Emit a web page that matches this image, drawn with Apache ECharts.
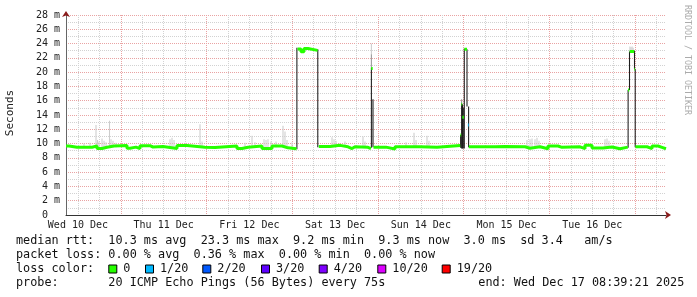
<!DOCTYPE html>
<html><head><meta charset="utf-8">
<script src="https://cdn.jsdelivr.net/npm/echarts@6/dist/echarts.min.js"></script>
<style>html,body{margin:0;padding:0;background:#fff}#c{width:697px;height:297px}</style>
</head><body><div id="c"></div>
<script>
// ---- data (x = hours since Wed Dec 10 08:39:21) ----
const START_HOUR = 8 + 39/60 + 21/3600;
const SPAN = 168;
const dayLabels = ['Wed 10 Dec','Thu 11 Dec','Fri 12 Dec','Sat 13 Dec','Sun 14 Dec','Mon 15 Dec','Tue 16 Dec'];
const yMax = 28, yStep = 2;

// median rtt (ms); null = no median line in that bucket
const medianT = [0,0.84,3.08,3.64,7.28,8.68,10.08,11.48,13.44,17.08,17.92,19.60,20.72,23.52,24.36,27.16,29.12,31.08,33.88,38.92,41.72,47.88,49.28,50.96,54.88,57.68,60.48,62.16,64.54,
  64.62,64.79,
  64.85,65.80,66.64,67.76,70.45,
  70.56,70.73,
  70.78,73.92,76.72,78.96,80.08,80.92,84.56,85.40,
  85.46,85.88,
  86.10,89.60,92.12,99.12,103.88,104.44,110.38,
  110.43,110.66,
  110.71,110.94,
  110.99,111.38,
  111.55,112.28,
  112.34,112.50,
  112.53,112.76,
  112.78,120.12,122.92,128.52,129.92,132.72,134.96,137.76,138.88,143.92,145.32,147.28,150.36,152.88,155.12,157.30,
  157.36,157.72,
  157.84,159.10,
  159.15,159.35,
  159.43,162.68,164.08,165.76,166.88];
const medianV = [9.66,9.48,9.25,9.48,9.66,9.3,9.48,9.66,9.72,9.35,9.5,9.3,9.7,9.52,9.6,9.45,9.3,9.72,9.5,9.45,9.66,9.3,9.48,9.66,9.3,9.66,9.4,9.28,null,
  12.6,null,
  23.25,22.85,23.3,23.05,null,
  15.0,null,
  9.6,9.75,9.55,9.3,9.55,9.47,9.28,null,
  20.5,null,
  9.5,9.25,9.55,9.5,9.28,9.72,null,
  11.2,null,
  15.5,null,
  13.7,null,
  23.2,null,
  15.2,null,
  12.6,null,
  9.55,9.6,9.55,9.35,9.55,9.28,9.66,9.47,9.55,9.28,9.75,9.38,9.52,9.28,9.5,null,
  17.5,null,
  22.9,null,
  20.4,null,
  9.55,9.3,9.66,9.47,9.28];
// buckets with packet loss (others: 0)
const lossTimes = [112.53];
const lossCounts = [1];

// smoke: time, low, high, shade (0 light, 1 mid, 2 dark)
const smokeT    = [5.04,6.72,8.40,8.82,9.24,10.08,10.64,11.20,12.18,12.60,13.16,14.00,29.12,29.68,30.24,37.52,38.08,50.12,52.08,52.92,55.44,56.00,56.56,57.40,58.80,60.76,61.32,61.88,63.28,74.48,75.04,75.60,78.12,83.16,83.72,95.20,97.44,98.00,101.08,101.64,129.08,129.92,130.48,131.32,131.88,132.44,150.92,151.48,152.04,
  85.51,157.90,158.20,158.50,158.80,
  85.51,110.77,
  64.65,70.50,85.51,85.96,110.49,110.77,111.02,111.24,111.52,112.28,112.73,157.39,157.78,159.18,159.38];
const smokeLow  = [9.5,9.5,9.5,9.5,9.5,9.5,9.5,9.5,9.5,9.5,9.5,9.5,9.5,9.5,9.5,9.5,9.5,9.5,9.5,9.5,9.5,9.5,9.5,9.5,9.5,9.5,9.5,9.5,9.5,9.5,9.5,9.5,9.5,9.5,9.5,9.5,9.5,9.5,9.5,9.5,9.5,9.5,9.5,9.5,9.5,9.5,9.5,9.5,9.5,
  22.5,22.9,22.9,22.9,22.9,
  20.6,15.6,
  9.2,9.5,9.4,9.5,9.4,9.3,9.3,9.3,9.3,15.2,9.5,9.4,17.5,20.4,9.5];
const smokeHigh = [10.0,10.1,12.6,10.5,10.3,10.7,10.4,10.2,13.2,10.6,10.4,10.1,10.6,10.8,10.5,12.7,10.3,10.1,11.1,10.2,10.6,10.5,10.6,10.3,10.3,12.5,11.7,10.5,10.2,10.9,10.6,10.4,10.3,11.0,10.3,10.2,11.5,10.5,11.1,10.4,10.5,10.6,10.7,10.6,10.8,10.4,10.6,10.7,10.4,
  24.0,23.6,23.5,23.6,23.4,
  22.5,16.2,
  23.4,23.2,20.6,16.2,11.2,15.6,15.5,15.0,23.3,23.2,15.2,17.5,22.9,23.0,20.4];
const smokeShade = [0,0,0,0,0,0,0,0,0,0,0,0,0,0,0,0,0,0,0,0,0,0,0,0,0,0,0,0,0,0,0,0,0,0,0,0,0,0,0,0,0,0,0,0,0,0,0,0,0,
  0,0,0,0,0,
  1,1,
  2,2,2,2,2,2,2,2,2,2,2,2,2,2,2];

const lossLabels = ['0','1/20','2/20','3/20','4/20','10/20','19/20'];
const statLines = [
  'median rtt:  10.3 ms avg  23.3 ms max  9.2 ms min  9.3 ms now  3.0 ms  sd 3.4   am/s',
  'packet loss: 0.00 % avg  0.36 % max  0.00 % min  0.00 % now',
  'loss color:',
  'probe:       20 ICMP Echo Pings (56 Bytes) every 75s'
];
const endText = 'end: Wed Dec 17 08:39:21 2025';

// ---- styles / layout ----
const lossColors = ['#26ff00','#00b8ff','#0059ff','#5e00ff','#7e00ff','#dd00ff','#ff0000'];
const shadeColors = ['#cdcdcd','#9a9a9a','#1e1e1e'];
const MONO = 'DejaVu Sans Mono';
const legendTextX = [123.3,160,217.3,276,333.7,392.3,456.7];
const lineY = [241,255,269,283];

// derived tick positions
const noonTicks = dayLabels.map((d,i)=>12 + 24*i - START_HOUR);
const midnightTicks = [], sixHourTicks = [];
for (let h = 0; h <= SPAN + START_HOUR; h += 6) {
  const v = h - START_HOUR;
  if (v <= 0 || v >= SPAN) continue;
  if (h % 24 === 0) midnightTicks.push(v); else sixHourTicks.push(v);
}

function lossOf(t){ const i = lossTimes.indexOf(t); return i < 0 ? 0 : lossCounts[i]; }
function buildMedian(loss){
  const out = [];
  for (let i = 0; i < medianT.length; i++) {
    const v = medianV[i];
    const nextT = i + 1 < medianT.length ? medianT[i+1] : SPAN;
    if (v == null || lossOf(medianT[i]) !== loss) {
      if (out.length && out[out.length-1][1] !== '-') out.push([medianT[i], '-']);
      continue;
    }
    out.push([medianT[i], v]);
    const nextOk = i + 1 < medianT.length && medianV[i+1] != null && lossOf(medianT[i+1]) === loss;
    if (!nextOk) out.push([nextT, v]);
  }
  return out;
}
const smokeData = smokeT.map((t,i)=>[t, smokeLow[i], smokeHigh[i], smokeShade[i]]);

const gridLineMajor = {color:'#e9a3a3', type:[1,1], width:1};
const gridLineMinor = {color:'#d2d2d2', type:[1,1], width:1};

const graphic = [];
graphic.push({type:'text', x:10, y:113, rotation:Math.PI/2, style:{text:'Seconds', font:'11px "'+MONO+'"', fill:'#222', align:'center', verticalAlign:'middle'}});
graphic.push({type:'text', x:687, y:5, rotation:-Math.PI/2, style:{text:'RRDTOOL / TOBI OETIKER', font:'8.3px "'+MONO+'"', fill:'#ababab', align:'left', verticalAlign:'middle'}});
statLines.forEach((s,i)=>graphic.push({type:'text', x:16, y:lineY[i], style:{text:s, font:'11.8px "'+MONO+'"', fill:'#111', verticalAlign:'middle'}}));
graphic.push({type:'text', x:478.3, y:lineY[3], style:{text:endText, font:'11.8px "'+MONO+'"', fill:'#111', verticalAlign:'middle'}});
lossLabels.forEach((l,i)=>{
  graphic.push({type:'rect', shape:{x:legendTextX[i]-14.5, y:lineY[2]-4, width:8, height:8}, style:{fill:lossColors[i], stroke:'#000', lineWidth:1}});
  graphic.push({type:'text', x:legendTextX[i], y:lineY[2], style:{text:l, font:'11.8px "'+MONO+'"', fill:'#111', verticalAlign:'middle'}});
});

const baseX = {type:'value', min:0, max:SPAN, gridIndex:0};
const chart = echarts.init(document.getElementById('c'), null, {renderer:'canvas'});
chart.setOption({
  animation:false,
  backgroundColor:'#fff',
  grid:{left:66, top:15, width:600, height:200},
  xAxis:[
    Object.assign({}, baseX, {position:'bottom',
      axisLine:{show:true, onZero:false, lineStyle:{color:'#333', width:1}},
      axisTick:{show:false},
      axisLabel:{customValues:noonTicks, formatter:(v)=>dayLabels[Math.round((v + START_HOUR - 12)/24)] || '', color:'#222', fontFamily:MONO, fontSize:10, margin:5},
      splitLine:{show:false}}),
    Object.assign({}, baseX, {position:'bottom', axisLine:{show:false}, axisTick:{show:false, customValues:sixHourTicks}, axisLabel:{show:false}, splitLine:{show:true, lineStyle:gridLineMinor}}),
    Object.assign({}, baseX, {position:'bottom', axisLine:{show:false}, axisTick:{show:false, customValues:midnightTicks}, axisLabel:{show:false}, splitLine:{show:true, lineStyle:gridLineMajor}}),
    Object.assign({}, baseX, {position:'bottom', axisLine:{show:true, onZero:false, symbol:['none','arrow'], symbolSize:[6,6], symbolOffset:[0,5], lineStyle:{color:'#8a1c1c', width:0}}, axisTick:{show:false}, axisLabel:{show:false}, splitLine:{show:false}})
  ],
  yAxis:[
    {type:'value', min:0, max:yMax, interval:yStep,
      axisLine:{show:true, onZero:false, lineStyle:{color:'#666', width:1}},
      axisTick:{show:false},
      axisLabel:{formatter:(v)=> v === 0 ? '0  ' : v + ' m', color:'#222', fontFamily:MONO, fontSize:10, margin:6},
      splitLine:{show:true, lineStyle:gridLineMajor},
      minorTick:{show:false, splitNumber:2},
      minorSplitLine:{show:true, lineStyle:gridLineMinor}},
    {type:'value', min:0, max:yMax,
      axisLine:{show:true, onZero:false, symbol:['none','arrow'], symbolSize:[6,6], symbolOffset:[0,4], lineStyle:{color:'#8a1c1c', width:0}},
      position:'left', axisTick:{show:false}, axisLabel:{show:false}, splitLine:{show:false}}
  ],
  series:[
    {type:'custom', xAxisIndex:0, yAxisIndex:0, z:2, data:smokeData, encode:{x:0, y:[1,2]},
      renderItem:(params, api)=>{
        const t = api.value(0), lo = api.value(1), hi = api.value(2), sh = api.value(3);
        const p1 = api.coord([t, hi]), p0 = api.coord([t, lo]);
        const w = Math.max(1, api.size([0.3, 0])[0]);
        return {type:'rect', z2:sh, shape:{x:p1[0]-w/2, y:p1[1], width:w, height:p0[1]-p1[1]}, style:{fill:shadeColors[sh]}};
      }},
    {type:'line', name:'loss0', xAxisIndex:0, yAxisIndex:0, z:3, step:'end', showSymbol:false, symbol:'none', connectNulls:false,
      data:buildMedian(0), lineStyle:{color:lossColors[0], width:3, cap:'butt'}},
    {type:'line', name:'loss1', xAxisIndex:0, yAxisIndex:0, z:3, step:'end', showSymbol:false, symbol:'none', connectNulls:false,
      data:buildMedian(1), lineStyle:{color:lossColors[1], width:3, cap:'butt'}}
  ],
  graphic:graphic
});
</script>
</body></html>
